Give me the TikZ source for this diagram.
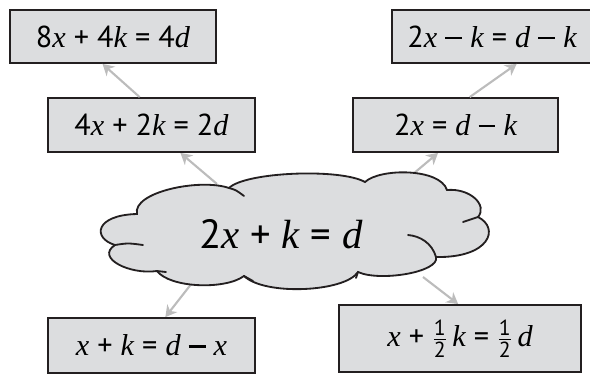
\documentclass[tikz,border=0pt]{standalone}
\usepackage{amsmath}
\usepackage{fontspec}
\setmainfont{PT Sans}
\newfontfamily\varfont{Liberation Serif}
\definecolor{eqfill}{HTML}{DCDDDF}
\definecolor{eqdark}{HTML}{231F20}
\definecolor{eqarrow}{HTML}{BCBCBC}
\usetikzlibrary{arrows.meta,backgrounds}
\newcommand{\mv}[1]{{\varfont\itshape #1}}
\newcommand{\mn}{\rule[0.27em]{0.56em}{0.075em}}
\newcommand{\hf}{\ensuremath{\genfrac{}{}{0.6pt}{}{\hbox{\fontsize{15.5}{15.5}\selectfont 1}}{\hbox{\fontsize{15.5}{15.5}\selectfont 2}}}}
\tikzset{
  eqbox/.style={
    draw=eqdark, fill=eqfill, line width=1.3pt,
    minimum width=#1, inner sep=0pt,
    align=center, font=\fontsize{21.5}{24}\selectfont
  },
  eqtext/.style={inner sep=0pt, font=\fontsize{29}{32}\selectfont},
  cloudline/.style={draw=eqdark, line width=1.3pt, line cap=round},
  eqarr/.style={draw=eqarrow, line width=1.5pt,
    -{Stealth[length=8pt,width=9pt,inset=2.5pt]}}
}
\begin{document}
\begin{tikzpicture}[x=0.025cm, y=-0.025cm]
  \useasboundingbox (0,0) rectangle (590,376);
  \node[eqbox=5.15cm, minimum height=1.325cm] (times8)  at (113,36.5)
    {8\mv{x} + 4\mv{k} = 4\mv{d}};
  \node[eqbox=5.175cm, minimum height=1.35cm] (times4)  at (151.5,125)
    {4\mv{x} + 2\mv{k} = 2\mv{d}};
  \node[eqbox=5.0cm, minimum height=1.325cm] (minusk)  at (492,36.5)
    {2\mv{x} \mn{} \mv{k} = \mv{d} \mn{} \mv{k}};
  \node[eqbox=5.125cm, minimum height=1.35cm] (sub)     at (455.5,125)
    {2\mv{x} = \mv{d} \mn{} \mv{k}};
  \node[eqbox=5.175cm, minimum height=1.375cm] (subx)   at (151.5,345.5)
    {\mv{x} + \mv{k} = \mv{d} \mn{} \mv{x}};
  \node[eqbox=6.05cm, minimum height=1.675cm] (half)    at (460,338.5)
    {\mv{x} + \hf\,\mv{k} = \hf\,\mv{d}};

  % cloud
  \fill[eqfill] (137,214)
    .. controls (132,192) and (200,178) .. (229,188)
    .. controls (245,172) and (340,168) .. (365,182)
    .. controls (380,168) and (440,168) .. (447,190)
    .. controls (470,188) and (488,205) .. (478,217)
    .. controls (500,228) and (490,258) .. (436,257)
    .. controls (440,272) and (380,282) .. (358,272)
    .. controls (345,292) and (265,296) .. (244,276)
    .. controls (225,290) and (170,288) .. (157,271)
    .. controls (130,275) and (95,258)  .. (115,245)
    .. controls (92,238)  and (95,215)  .. cycle;
  \draw[cloudline] (137,214)
    .. controls (132,192) and (200,178) .. (229,188)
    .. controls (245,172) and (340,168) .. (365,182)
    .. controls (380,168) and (440,168) .. (447,190)
    .. controls (470,188) and (488,205) .. (478,217)
    .. controls (500,228) and (490,258) .. (436,257)
    .. controls (440,272) and (380,282) .. (358,272)
    .. controls (345,292) and (265,296) .. (244,276)
    .. controls (225,290) and (170,288) .. (157,271)
    .. controls (130,275) and (95,258)  .. (115,245)
    .. controls (92,238)  and (95,215)  .. cycle;
  \draw[cloudline] (229,188) .. controls (236,190) .. (244,196);
  \draw[cloudline] (115,245) .. controls (128,243) .. (143,245);
  \draw[cloudline] (157,271) .. controls (161,272) .. (166,272);
  \draw[cloudline] (244,276) .. controls (248,278) .. (253,281);
  \draw[cloudline] (478,217) .. controls (470,219) .. (463,222);
  \draw[cloudline] (436,257) .. controls (432,243) and (420,236) .. (408,235);
  \draw[cloudline] (358,272) .. controls (357,275) .. (356,278);
  \node[eqtext] (start) at (281,234) {2\mv{x} + \mv{k} = \mv{d}};

  \coordinate (ctl) at (217,184);
  \coordinate (ctr) at (413,174);
  \coordinate (cbl) at (192,283);
  \coordinate (cbr) at (423,277);
  \begin{scope}[on background layer]
    \draw[eqarr] (ctl) -- (times4.316);
    \draw[eqarr] (ctr) -- (sub.238);
    \draw[eqarr] (cbl) -- (subx.64);
    \draw[eqarr] (cbr) -- (half.93);
  \end{scope}
  \draw[eqarr] (times4.113) -- (times8.249);
  \draw[eqarr] (sub.63)     -- (minusk.312);
\end{tikzpicture}
\end{document}
